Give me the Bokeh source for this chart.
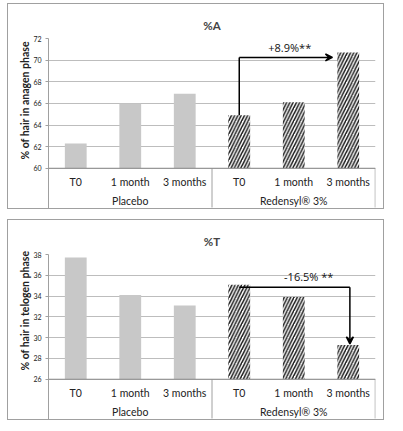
from bokeh.plotting import figure
from bokeh.models import FactorRange, FixedTicker, Title, Arrow, VeeHead, Span, ColumnDataSource
from bokeh.layouts import column
from bokeh.core.properties import value
from bokeh.embed import file_html
from bokeh.resources import INLINE

groups = ["Placebo", "Redensyl® 3%"]
times = ["T0", "1 month", "3 months"]

anagen_placebo = [62.3, 66.0, 66.9]
anagen_redensyl = [64.9, 66.1, 70.7]
anagen_ticks = [60, 62, 64, 66, 68, 70, 72]

telogen_placebo = [37.7, 34.1, 33.1]
telogen_redensyl = [35.1, 33.9, 29.3]
telogen_ticks = [26, 28, 30, 32, 34, 36, 38]

FONT = "Lato"
factors = [(g, t) for g in groups for t in times]


def slot(f, off=0.0):
    # synthetic position of a factor (no padding in the range)
    return factors.index(f) + 0.5 + off


def make_chart(title, ylabel, placebo, redensyl, ticks, height, px_per_unit):
    lo, hi = ticks[0], ticks[-1]
    # frame runs down to the box bottom so the category rows sit inside it
    bottom = lo - 42 / px_per_unit
    p = figure(x_range=FactorRange(*factors, factor_padding=0, group_padding=0, range_padding=0),
               y_range=(bottom, hi), width=377, height=height,
               x_axis_location=None, output_backend="svg", toolbar_location=None,
               min_border_left=40, min_border_right=10, min_border_top=34, min_border_bottom=0,
               styles={"border": "1px solid #a0a0a0"})
    p.title.text = title
    p.title.align = "center"
    p.title.text_font = FONT
    p.title.text_font_size = "11.5px"
    p.title.text_font_style = "bold"
    p.title.standoff = 14

    p.outline_line_color = None
    p.xgrid.visible = False
    p.yaxis.ticker = FixedTicker(ticks=ticks)
    p.ygrid.grid_line_color = "#bdbdbd"
    p.yaxis.axis_line_color = "#a0a0a0"
    p.yaxis.major_tick_line_color = "#a0a0a0"
    p.yaxis.major_tick_out = 3
    p.yaxis.major_tick_in = 0
    p.yaxis.minor_tick_line_color = None
    p.yaxis.major_label_text_font = FONT
    p.yaxis.major_label_text_font_size = "7px"
    p.yaxis.major_label_text_color = "#222222"
    p.yaxis.major_label_standoff = 4

    p.add_layout(Span(location=lo, dimension="width", line_color="#8c8c8c", line_width=1))

    src_p = ColumnDataSource(dict(x=factors[:3], top=placebo))
    src_r = ColumnDataSource(dict(x=factors[3:], top=redensyl))
    p.vbar(x="x", top="top", bottom=lo, width=0.4, source=src_p,
           fill_color="#c8c8c8", line_color=None)
    p.vbar(x="x", top="top", bottom=lo, width=0.4, source=src_r,
           fill_color="white", line_color=None, hatch_pattern="/",
           hatch_color="#1a1a1a", hatch_scale=6.5, hatch_weight=1.5)

    # category rows
    p.text(x=factors, y=[lo] * len(factors), text=[f[1] for f in factors], y_offset=14,
           text_align="center", text_baseline="middle", text_font=value(FONT),
           text_font_size="10.5px", text_color="#222222")
    p.text(x=groups, y=[lo] * len(groups), text=groups, y_offset=33,
           text_align="center", text_baseline="middle", text_font=value(FONT),
           text_font_size="10.5px", text_color="#222222")
    sep_x = [(groups[1], times[0], -0.5), (groups[1], times[2], 0.495)]
    p.segment(x0=sep_x, x1=sep_x, y0=[lo] * 2, y1=[bottom + 3 / px_per_unit] * 2,
              line_color="#a0a0a0", line_width=1)

    # y label centred on the value part of the axis, not on the whole frame
    p.add_layout(Title(text=ylabel, align="left", offset=51, standoff=0,
                       text_font=FONT, text_font_size="10.5px", text_font_style="bold",
                       text_color="#222222"), "left")
    return p


pA = make_chart("%A", "% of hair in anagen phase", anagen_placebo, anagen_redensyl,
                anagen_ticks, 206, 129 / 12)
arrow_y = 70.25
pA.add_layout(Arrow(end=None, x_start=slot(factors[3]), y_start=anagen_redensyl[0],
                    x_end=slot(factors[3]), y_end=arrow_y, line_width=1.5, line_color="black"))
pA.add_layout(Arrow(end=VeeHead(size=7, line_color="black", line_width=1.5),
                    x_start=slot(factors[3]), y_start=arrow_y,
                    x_end=slot(factors[5], -0.29), y_end=arrow_y,
                    line_width=1.5, line_color="black"))
pA.text(x=[factors[4]], y=[71.2], text=["+8.9%**"], x_offset=-4, text_align="center",
        text_baseline="middle", text_font=value("Open Sans"), text_font_size="11px", text_color="#111111")

pT = make_chart("%T", "% of hair in telogen phase", telogen_placebo, telogen_redensyl,
                telogen_ticks, 201, 124 / 12)
arrow_y2 = 34.85
pT.add_layout(Arrow(end=None, x_start=slot(factors[3]), y_start=arrow_y2,
                    x_end=slot(factors[5], 0.03), y_end=arrow_y2, line_width=1.5, line_color="black"))
pT.add_layout(Arrow(end=VeeHead(size=7, line_color="black", line_width=1.5),
                    x_start=slot(factors[5], 0.03), y_start=arrow_y2,
                    x_end=slot(factors[5], 0.03), y_end=telogen_redensyl[2] + 0.1,
                    line_width=1.5, line_color="black"))
pT.text(x=[factors[4]], y=[35.9], text=["-16.5% **"], x_offset=15, text_align="center",
        text_baseline="middle", text_font=value("Open Sans"), text_font_size="11px", text_color="#111111")

pA.margin = (3, 0, 0, 7)
pT.margin = (10, 0, 0, 7)
layout = column(pA, pT, spacing=0)

open("out.html", "w").write(file_html(layout, INLINE))
